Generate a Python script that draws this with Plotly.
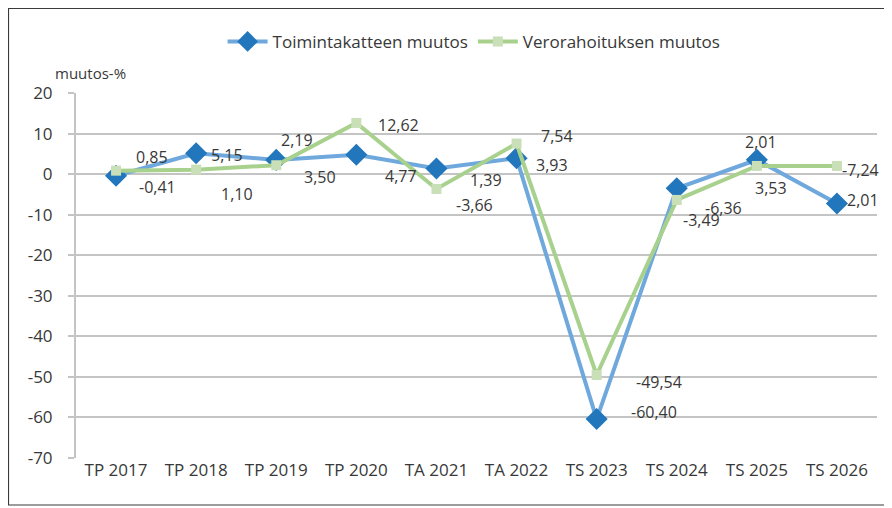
import plotly.graph_objects as go

categories = ["TP 2017", "TP 2018", "TP 2019", "TP 2020", "TA 2021",
              "TA 2022", "TS 2023", "TS 2024", "TS 2025", "TS 2026"]
toimintakate = [-0.41, 5.15, 3.50, 4.77, 1.39, 3.93, -60.40, -3.49, 3.53, -7.24]
verorahoitus = [0.85, 1.10, 2.19, 12.62, -3.66, 7.54, -49.54, -6.36, 2.01, 2.01]
y_ticks = [20, 10, 0, -10, -20, -30, -40, -50, -60, -70]

# label offsets (pixels) – styling only
blue_off = [(41, -11), (31, -2), (44, -17), (45, -21), (50, -12),
            (35, -7), (57, 7), (25, -32), (14, -28), (24, 33)]
green_off = [(36, 14), (41, -24), (21, 25), (42, -2), (38, -16),
             (40, 8), (62, -7), (47, -8), (4, 24), (26, -34)]

FONT = "Open Sans"
TXT = "#383838"

fig = go.Figure()
fig.add_trace(go.Scatter(
    x=categories, y=toimintakate, name="Toimintakatteen muutos",
    mode="lines+markers",
    line=dict(color="#6FA8DC", width=4),
    marker=dict(symbol="diamond", size=17, color="#2176BC",
                line=dict(width=0)),
))
fig.add_trace(go.Scatter(
    x=categories, y=verorahoitus, name="Verorahoituksen muutos",
    mode="lines+markers",
    line=dict(color="#A9D18E", width=4),
    marker=dict(symbol="square", size=10, color="#C9DFB8",
                line=dict(width=0)),
))

def fmt(v):
    return f"{v:.2f}".replace(".", ",")

annotations = []
for vals, offs in ((toimintakate, blue_off), (verorahoitus, green_off)):
    for c, v, (dx, dy) in zip(categories, vals, offs):
        annotations.append(dict(
            x=c, y=v, xref="x", yref="y", text=fmt(v), showarrow=False,
            xshift=dx, yshift=dy, font=dict(family=FONT, size=16, color=TXT),
        ))

annotations.append(dict(
    x=0.0175, y=1.0548, xref="paper", yref="paper", text="muutos-%",
    showarrow=False, xanchor="center", yanchor="middle",
    font=dict(family=FONT, size=15, color=TXT),
))

fig.update_layout(
    width=884, height=500,
    margin=dict(l=68, r=15, t=85, b=50, autoexpand=False),
    paper_bgcolor="white", plot_bgcolor="white",
    font=dict(family=FONT, size=15, color=TXT),
    showlegend=True,
    legend=dict(orientation="h", x=0.497, y=1.14, xanchor="center",
                yanchor="middle", font=dict(family=FONT, size=17, color=TXT),
                itemwidth=40, traceorder="normal"),
    annotations=annotations,
    shapes=[dict(type="rect", xref="paper", yref="paper",
                 x0=-0.0843, x1=1.0125, y0=-0.1288, y1=1.2315,
                 line=dict(color="#3A3A3A", width=1.2), layer="below")],
)
fig.update_xaxes(
    type="category", categoryorder="array", categoryarray=categories,
    range=[-0.5, 9.5],
    showgrid=False, showline=False, ticks="", automargin=False,
    tickfont=dict(family=FONT, size=17, color=TXT),
)
fig.update_yaxes(
    range=[-70, 20], tickvals=y_ticks, ticktext=[str(t) for t in y_ticks],
    showgrid=True, gridcolor="#C4C4C4", gridwidth=2,
    zeroline=False, automargin=False,
    showline=True, linecolor="#C4C4C4", linewidth=2,
    ticks="outside", ticklen=6, tickcolor="#C4C4C4", tickwidth=2,
    tickfont=dict(family=FONT, size=17, color=TXT),
    ticklabelstandoff=12,
)

fig.write_html("out.html")
